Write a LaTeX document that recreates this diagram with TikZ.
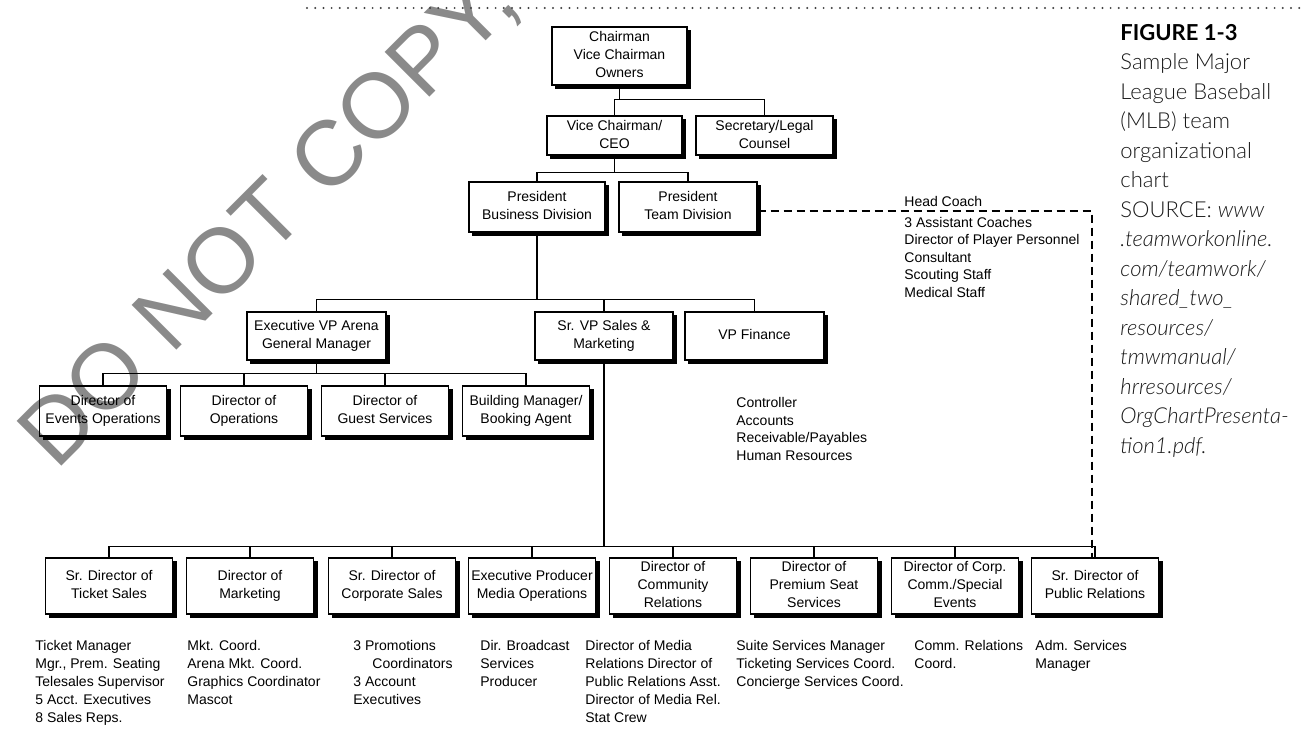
\documentclass[tikz,border=0pt]{standalone}
\usepackage{fontspec}
\setmainfont{Liberation Sans}
\newfontfamily\capfont{Lato}[UprightFont=* Light,ItalicFont=* Light Italic,BoldFont=* Bold]
\definecolor{wmgray}{RGB}{138,138,138}
\tikzset{
  orgbox/.style={draw,line width=0.7pt,inner sep=0pt,align=center,font=\fontsize{7}{9}\selectfont,
    execute at end node={\vphantom{g}}},
  link/.style={line width=0.65pt},
  shade/.style={line width=1.6pt},
  sublist/.style={anchor=north west,inner sep=0pt,align=left,font=\fontsize{7}{8.75}\selectfont},
}
\begin{document}
\begin{tikzpicture}[x=0.5pt,y=-0.5pt]
\useasboundingbox (0,0) rectangle (1301,733);
% watermark and rule
\node[text=wmgray,rotate=45,inner sep=0pt,font=\fontsize{46}{46}\selectfont] (wm) at (270,220) {DO NOT COPY,};
\draw[dash pattern=on 0pt off 4.1pt,line cap=round,line width=1.1pt,black!75] (307,8) -- (1301,8);

% upper boxes
\node[orgbox,minimum width=67.5pt,minimum height=29pt] (chair) at (619.5,56) {Chairman\\Vice Chairman\\Owners};
\node[orgbox,minimum width=67.5pt,minimum height=19.5pt] (vc) at (614.5,135.5) {Vice Chairman/\\CEO};
\node[orgbox,minimum width=68.5pt,minimum height=19.5pt] (sec) at (764.5,135.5) {Secretary/Legal\\Counsel};
\node[orgbox,minimum width=68pt,minimum height=25pt] (pbd) at (537,207) {President\\Business Division};
\node[orgbox,minimum width=69pt,minimum height=25pt] (ptd) at (688,207) {President\\Team Division};
\node[orgbox,minimum width=69.5pt,minimum height=24pt] (evp) at (316.5,336) {Executive VP Arena\\General Manager};
\node[orgbox,minimum width=69pt,minimum height=24pt] (svp) at (604,336) {Sr. VP Sales \&\\Marketing};
\node[orgbox,minimum width=69.5pt,minimum height=24pt] (vpf) at (754.5,336) {VP Finance};

\foreach \x/\n/\t in {103/deo/{Director of\\Events Operations},244/dop/{Director of\\Operations},
  385/dgs/{Director of\\Guest Services},526/bmb/{Building Manager/\\Booking Agent}}
  \node[orgbox,minimum width=63.5pt,minimum height=25pt] (\n) at (\x,411) {\t};

\foreach \x/\n/\t in {109/stk/{Sr. Director of\\Ticket Sales},250/dmk/{Director of\\Marketing},
  392/scs/{Sr. Director of\\Corporate Sales},532/epm/{Executive Producer\\Media Operations},
  673/dcr/{Director of\\Community\\Relations},814/dps/{Director of\\Premium Seat\\Services},
  955/dcc/{Director of Corp.\\Comm./Special\\Events},1095/spr/{Sr. Director of\\Public Relations}}
  \node[orgbox,minimum width=63.5pt,minimum height=28pt] (\n) at (\x,586) {\t};

\foreach \n in {chair,vc,sec,pbd,ptd,evp,svp,vpf,deo,dop,dgs,bmb,stk,dmk,scs,epm,dcr,dps,dcc,spr}
  \draw[shade] ([shift={(0.9pt,-2pt)}]\n.north east) |- ([shift={(2pt,-0.9pt)}]\n.south west);

% connectors
\draw[link] (chair.south) -- ++(0,14) coordinate (k1);
\draw[link] (vc.north) |- (k1) -| (sec.north);
\draw[link] (vc.south) -- ++(0,17) coordinate (k2);
\draw[link] (pbd.north) |- (k2) -| (ptd.north);
\draw[link] (pbd.south) -- ++(0,67) coordinate (k3);
\draw[link] (evp.north) |- (k3) -| (vpf.north);
\draw[link] (svp.north) -- (svp.north |- k3);
\draw[link] (evp.south) -- ++(0,13) coordinate (k4);
\draw[link] (deo.north) |- (k4) -| (bmb.north);
\foreach \n in {dop,dgs} \draw[link] (\n.north) -- (\n.north |- k4);
\draw[link] (svp.south) -- ++(0,186) coordinate (k5);
\draw[link] (stk.north) |- (k5) -| (spr.north);
\foreach \n in {dmk,scs,epm,dcr,dps,dcc} \draw[link] (\n.north) -- (\n.north |- k5);
\draw[link,dash pattern=on 4pt off 2.5pt] ([yshift=-2pt]ptd.east) -| ([xshift=-1.5pt]spr.north);

% staff lists
\node[sublist] (team) at (904,196) {Head Coach\\[1.5pt]3 Assistant Coaches\\Director of Player Personnel\\Consultant\\Scouting Staff\\Medical Staff};
\node[sublist] (fin) at (736,397) {Controller\\Accounts\\Receivable/Payables\\Human Resources};
\foreach \x/\n/\t in {35/l1/{Ticket Manager\\Mgr., Prem. Seating\\Telesales Supervisor\\5 Acct. Executives\\8 Sales Reps.},
  187/l2/{Mkt. Coord.\\Arena Mkt. Coord.\\Graphics Coordinator\\Mascot},
  353/l3/{3 Promotions\\\hspace*{9.5pt}Coordinators\\3 Account\\Executives},
  480/l4/{Dir. Broadcast\\Services\\Producer},
  585/l5/{Director of Media\\Relations Director of\\Public Relations Asst.\\Director of Media Rel.\\Stat Crew},
  736/l6/{Suite Services Manager\\Ticketing Services Coord.\\Concierge Services Coord.},
  914/l7/{Comm. Relations\\Coord.},
  1035/l8/{Adm. Services\\Manager}}
  \node[sublist,font=\fontsize{7}{9}\selectfont] (\n) at (\x,640) {\t};

% caption
\node[anchor=north west,inner sep=0pt,align=left,text=black!90,font=\capfont\fontsize{11}{14.75}\selectfont] (cap) at (1120,24)
  {\textcolor{black}{\textbf{FIGURE 1-3}}\\Sample Major\\League Baseball\\(MLB) team\\organizational\\chart\\SOURCE: \textit{www}\\
  \textit{.teamworkonline.}\\\textit{com/teamwork/}\\\textit{shared\_two\_}\\\textit{resources/}\\\textit{tmwmanual/}\\
  \textit{hrresources/}\\\textit{OrgChartPresenta-}\\\textit{tion1.pdf.}};
\end{tikzpicture}
\end{document}
